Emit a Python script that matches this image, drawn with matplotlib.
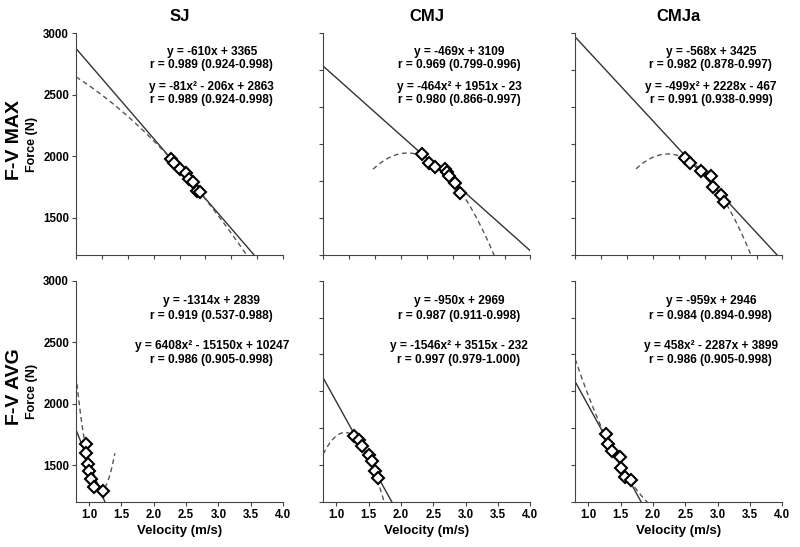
import numpy as np
import matplotlib
matplotlib.use("Agg")
import matplotlib.pyplot as plt

plt.rcParams['font.family'] = ['Liberation Sans', 'DejaVu Sans']
plt.rcParams['font.weight'] = 'bold'

saltos = ["SJ", "CMJ", "CMJa"]
filas = ["F-V MAX", "F-V AVG"]

max_lin = [[-610, 3365], [-469, 3109], [-568, 3425]]
max_quad = [[-81, -206, 2863], [-464, 1951, -23], [-499, 2228, -467]]
avg_lin = [[-1314, 2839], [-950, 2969], [-959, 2946]]
avg_quad = [[6408, -15150, 10247], [-1546, 3515, -232], [458, -2287, 3899]]

# tramo en x donde se dibuja la parabola
max_quad_x = [[0.8, 4.0], [1.57, 3.6], [1.74, 3.6]]
avg_quad_x = [[0.8, 1.4], [0.8, 1.8], [0.8, 2.0]]

# textos de las ecuaciones
max_txt_lin = ["y = -610x + 3365", "y = -469x + 3109", "y = -568x + 3425"]
max_r_lin = ["r = 0.989 (0.924-0.998)", "r = 0.969 (0.799-0.996)", "r = 0.982 (0.878-0.997)"]
max_txt_quad = ["y = -81x\u00b2 - 206x + 2863", "y = -464x\u00b2 + 1951x - 23", "y = -499x\u00b2 + 2228x - 467"]
max_r_quad = ["r = 0.989 (0.924-0.998)", "r = 0.980 (0.866-0.997)", "r = 0.991 (0.938-0.999)"]
avg_txt_lin = ["y = -1314x + 2839", "y = -950x + 2969", "y = -959x + 2946"]
avg_r_lin = ["r = 0.919 (0.537-0.988)", "r = 0.987 (0.911-0.998)", "r = 0.984 (0.894-0.998)"]
avg_txt_quad = ["y = 6408x\u00b2 - 15150x + 10247", "y = -1546x\u00b2 + 3515x - 232", "y = 458x\u00b2 - 2287x + 3899"]
avg_r_quad = ["r = 0.986 (0.905-0.998)", "r = 0.997 (0.979-1.000)", "r = 0.986 (0.905-0.998)"]

# puntos (velocidad, fuerza)
sj_max_v = [2.27, 2.31, 2.40, 2.50, 2.55, 2.60, 2.67, 2.72]
sj_max_f = [1980, 1945, 1895, 1865, 1820, 1790, 1720, 1710]
cmj_max_v = [2.33, 2.43, 2.52, 2.68, 2.71, 2.75, 2.84, 2.91]
cmj_max_f = [2019, 1944, 1916, 1895, 1870, 1843, 1781, 1705]
cmja_max_v = [2.50, 2.58, 2.75, 2.90, 2.93, 3.05, 3.10]
cmja_max_f = [1984, 1945, 1884, 1841, 1754, 1686, 1632]

sj_avg_v = [0.955, 0.955, 0.98, 1.005, 1.03, 1.08, 1.22]
sj_avg_f = [1671, 1603, 1508, 1453, 1388, 1320, 1290]
cmj_avg_v = [1.28, 1.35, 1.40, 1.50, 1.56, 1.60, 1.64]
cmj_avg_f = [1739, 1701, 1653, 1584, 1535, 1453, 1400]
cmja_avg_v = [1.27, 1.30, 1.37, 1.49, 1.50, 1.57, 1.66]
cmja_avg_f = [1750, 1674, 1615, 1570, 1480, 1404, 1377]

max_v = [sj_max_v, cmj_max_v, cmja_max_v]
max_f = [sj_max_f, cmj_max_f, cmja_max_f]
avg_v = [sj_avg_v, cmj_avg_v, cmja_avg_v]
avg_f = [sj_avg_f, cmj_avg_f, cmja_avg_f]

fig = plt.figure(figsize=(8, 5.47), dpi=100)

lefts = [0.095, 0.404, 0.719]
bottoms = [0.534, 0.082]
w = 0.259
h = 0.405

for fila in range(2):
    if fila == 0:
        lin, quad, qx = max_lin, max_quad, max_quad_x
        vv, ff = max_v, max_f
        t1, t2, t3, t4 = max_txt_lin, max_r_lin, max_txt_quad, max_r_quad
        ty = [0.915, 0.857, 0.757, 0.698]
    else:
        lin, quad, qx = avg_lin, avg_quad, avg_quad_x
        vv, ff = avg_v, avg_f
        t1, t2, t3, t4 = avg_txt_lin, avg_r_lin, avg_txt_quad, avg_r_quad
        ty = [0.907, 0.84, 0.703, 0.642]

    for col in range(3):
        ax = fig.add_axes([lefts[col], bottoms[fila], w, h])

        x_lin = np.linspace(0.8, 4.0, 200)
        ax.plot(x_lin, np.polyval(lin[col], x_lin), color='#333333', lw=1.0)
        x_q = np.linspace(qx[col][0], qx[col][1], 300)
        ax.plot(x_q, np.polyval(quad[col], x_q), color='#555555', lw=1.0,
                linestyle=(0, (3.5, 2.5)))
        ax.plot(vv[col], ff[col], 'D', markersize=6, markerfacecolor='white',
                markeredgecolor='black', markeredgewidth=1.5, linestyle='none')

        ax.set_xlim(0.8, 4.0)
        ax.set_ylim(1200, 3000)
        ax.spines['top'].set_visible(False)
        ax.spines['right'].set_visible(False)
        ax.spines['left'].set_color('#444444')
        ax.spines['bottom'].set_color('#444444')
        ax.tick_params(direction='out', length=3, width=0.8, color='#444444',
                       labelsize=8.3, pad=2)

        if fila == 0:
            ax.set_xticks(np.arange(0.8, 4.01, 0.4))
            ax.set_xticklabels([])
            ax.set_title(saltos[col], fontsize=12, fontweight='bold', pad=9)
        else:
            ax.set_xticks(np.arange(1.0, 4.01, 0.5))
            ax.set_xticklabels(["%.1f" % t for t in np.arange(1.0, 4.01, 0.5)])
            ax.set_xlabel("Velocity (m/s)", fontsize=9.5, fontweight='bold', labelpad=3)

        if col == 0:
            ax.set_yticks([1500, 2000, 2500, 3000])
            ax.set_ylabel("Force (N)", fontsize=9, fontweight='bold', labelpad=4)
            centro = bottoms[fila] + h * 0.52
            fig.text(0.018, centro, filas[fila], rotation=90,
                     fontsize=14, fontweight='bold', ha='center', va='center')
        else:
            ax.set_yticks(np.arange(1200, 3001, 300))
            ax.set_yticklabels([])

        for txt, yy in zip([t1[col], t2[col], t3[col], t4[col]], ty):
            ax.text(0.655, yy, txt, transform=ax.transAxes, ha='center',
                    va='center', fontsize=8.6, fontweight='bold')

plt.savefig("out.png", dpi=100)
